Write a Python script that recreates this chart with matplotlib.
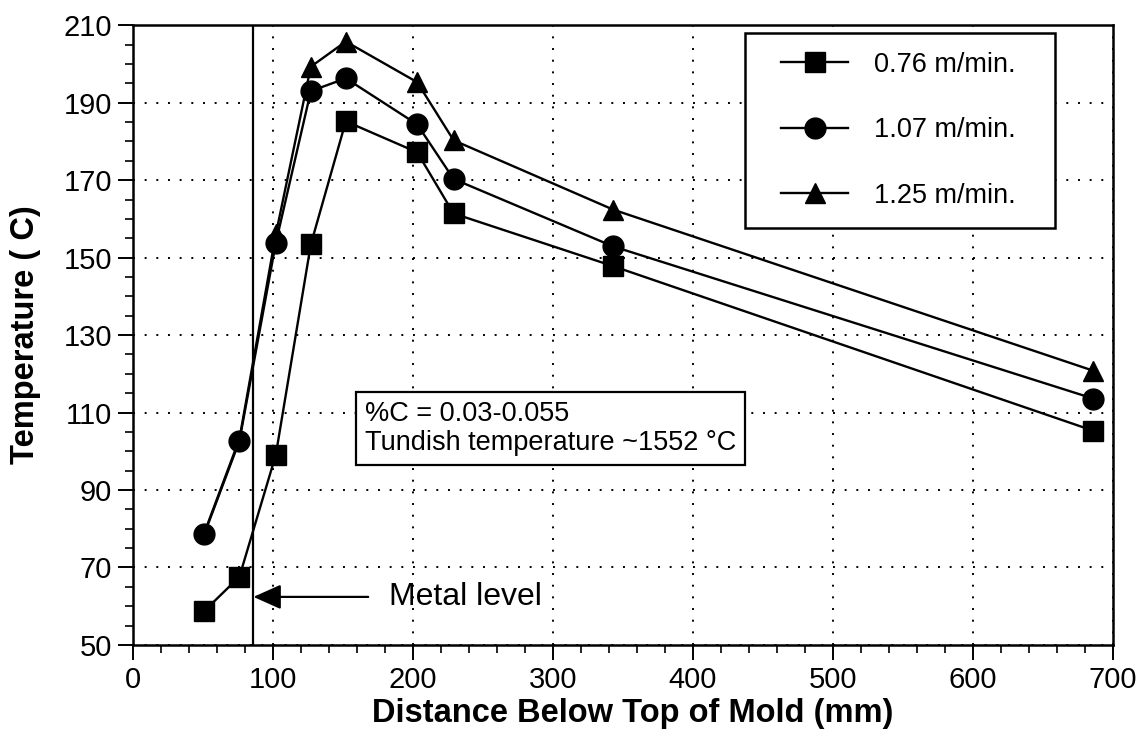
import matplotlib
matplotlib.use("Agg")
import matplotlib.pyplot as plt
from matplotlib.patches import Rectangle
from matplotlib.ticker import MultipleLocator

plt.rcParams['font.family'] = ['Liberation Sans', 'DejaVu Sans']

# distance below top of mold (mm)
dist = [51, 76, 102, 127, 152, 203, 229, 343, 686]

# mold temperature (C) per casting speed
temp_076 = [58.8, 67.6, 99.1, 153.4, 185.2, 177.2, 161.4, 147.8, 105.3]
temp_107 = [78.7, 102.7, 153.8, 193.0, 196.3, 184.4, 170.3, 152.9, 113.6]
temp_125 = [79.0, 103.2, 156.0, 199.3, 205.8, 195.3, 180.3, 162.4, 120.8]

labels = ['0.76 m/min.', '1.07 m/min.', '1.25 m/min.']
metal_level = 86

fig = plt.figure(figsize=(11.42, 7.43), dpi=100)
ax = fig.add_axes([0.1165, 0.132, 0.858, 0.834])

# triangles at the first two points sit under the circles
ax.plot(dist, temp_125, '-^', color='black', lw=1.7, ms=15, label=labels[2],
        markevery=slice(2, None), zorder=3)
ax.plot(dist, temp_107, '-o', color='black', lw=1.7, ms=15, label=labels[1], zorder=4)
ax.plot(dist, temp_076, '-s', color='black', lw=1.7, ms=15, label=labels[0], zorder=5)

ax.axvline(metal_level, color='black', lw=1.6, zorder=2)
ax.annotate('', xy=(metal_level, 62.4), xytext=(168, 62.4),
            arrowprops=dict(arrowstyle='-|>,head_length=0.85,head_width=0.38',
                            color='black', lw=1.6, shrinkA=0, shrinkB=0),
            fontsize=20)
ax.text(183, 62.4, 'Metal level', fontsize=23, va='center', ha='left')

ax.text(165.5, 112.9, '%C = 0.03-0.055\nTundish temperature ~1552 \u00b0C',
        fontsize=19.5, va='top', ha='left', linespacing=1.15,
        bbox=dict(boxstyle='square,pad=0.33', fc='white', ec='black', lw=1.6))

ax.set_xlim(0, 700)
ax.set_ylim(50, 210)
ax.xaxis.set_major_locator(MultipleLocator(100))
ax.xaxis.set_minor_locator(MultipleLocator(20))
ax.yaxis.set_major_locator(MultipleLocator(20))
ax.yaxis.set_minor_locator(MultipleLocator(5))
ax.set_yticks(range(50, 211, 20))

ax.grid(True, which='major', color='black', lw=1.4, linestyle=(0, (1, 5)))
ax.tick_params(which='major', direction='out', length=11, width=1.4, labelsize=21, pad=4)
ax.tick_params(which='minor', direction='out', length=6, width=1.2)
for s in ax.spines.values():
    s.set_linewidth(1.8)

ax.set_xlabel('Distance Below Top of Mold (mm)', fontsize=23.5, fontweight='bold', labelpad=2)
ax.xaxis.set_label_coords(0.51, -0.085)
ax.set_ylabel('Temperature ( C)', fontsize=23.5, fontweight='bold', labelpad=16)

# legend box drawn separately so its padding can follow the original
ax.add_patch(Rectangle((0.6245, 0.6726), 0.3163, 0.3144, transform=ax.transAxes,
                       fc='white', ec='black', lw=1.8, zorder=6))
handles, labs = ax.get_legend_handles_labels()
leg = ax.legend(handles[::-1], labs[::-1], loc='center', fontsize=19.5,
                bbox_to_anchor=(0.781, 0.8306), frameon=False,
                handlelength=2.5, borderpad=0.3,
                labelspacing=1.45, handletextpad=0.95, borderaxespad=0)
leg.set_zorder(7)

fig.savefig('out.png', dpi=100)
